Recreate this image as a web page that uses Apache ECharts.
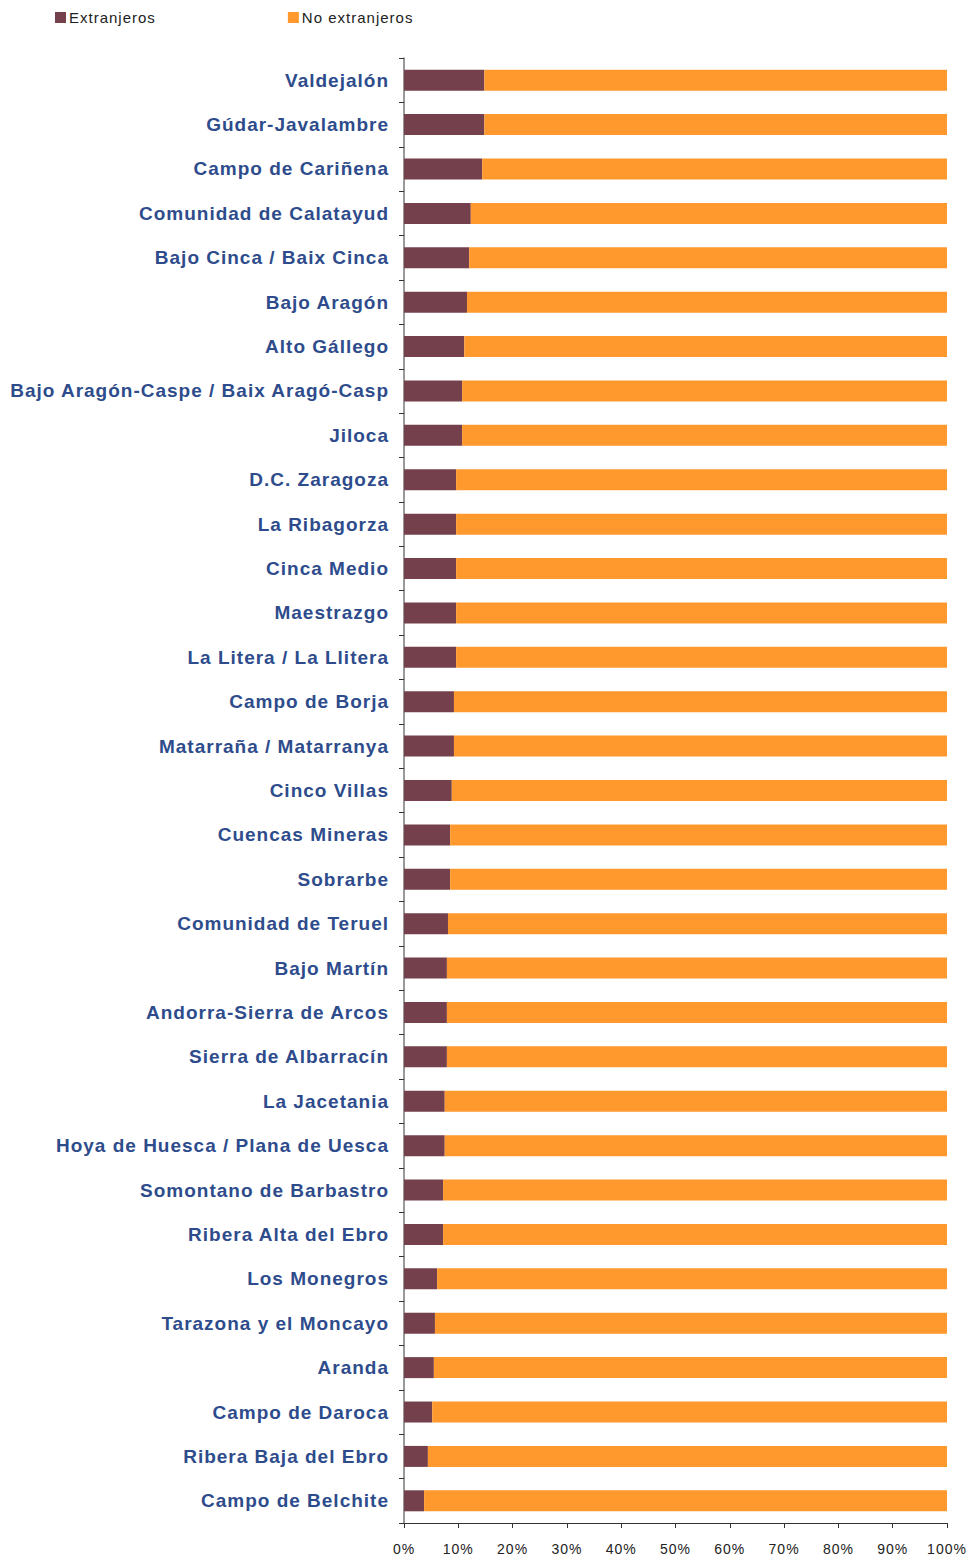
<!DOCTYPE html>
<html>
<head>
<meta charset="utf-8">
<script src="https://cdn.jsdelivr.net/npm/echarts@6/dist/echarts.min.js"></script>
<style>
  html, body { margin: 0; padding: 0; background: #fff; }
  #chart { width: 970px; height: 1559px; }
  /* el original tiene letras espaciadas */
  #chart text { letter-spacing: 1px; }
</style>
</head>
<body>
<div id="chart"></div>
<script>
// comarcas, de arriba a abajo
const comarcas = [
  'Valdejalón', 'Gúdar-Javalambre', 'Campo de Cariñena', 'Comunidad de Calatayud',
  'Bajo Cinca / Baix Cinca', 'Bajo Aragón', 'Alto Gállego', 'Bajo Aragón-Caspe / Baix Aragó-Casp',
  'Jiloca', 'D.C. Zaragoza', 'La Ribagorza', 'Cinca Medio', 'Maestrazgo',
  'La Litera / La Llitera', 'Campo de Borja', 'Matarraña / Matarranya', 'Cinco Villas',
  'Cuencas Mineras', 'Sobrarbe', 'Comunidad de Teruel', 'Bajo Martín',
  'Andorra-Sierra de Arcos', 'Sierra de Albarracín', 'La Jacetania',
  'Hoya de Huesca / Plana de Uesca', 'Somontano de Barbastro', 'Ribera Alta del Ebro',
  'Los Monegros', 'Tarazona y el Moncayo', 'Aranda', 'Campo de Daroca',
  'Ribera Baja del Ebro', 'Campo de Belchite'
]

// % extranjeros
const extranjeros = [
  14.8, 14.8, 14.4, 12.3, 12.0, 11.6, 11.1, 10.7, 10.7, 9.6, 9.6, 9.6, 9.6,
  9.6, 9.2, 9.2, 8.8, 8.5, 8.5, 8.1, 7.9, 7.9, 7.9, 7.5, 7.5, 7.2, 7.2,
  6.1, 5.7, 5.5, 5.2, 4.4, 3.7
]
const noExtranjeros = extranjeros.map(v => +(100 - v).toFixed(1))

const xTicks = [0, 10, 20, 30, 40, 50, 60, 70, 80, 90, 100]

const chart = echarts.init(document.getElementById('chart'), null, { renderer: 'svg' })

chart.setOption({
  animation: false,
  legend: {
    left: 50,
    top: 5,
    itemWidth: 11,
    itemHeight: 11,
    itemGap: 143,
    icon: 'rect',
    textStyle: { fontFamily: 'Liberation Sans', fontSize: 15, color: '#222', padding: [0, 0, 0, -2] },
    data: ['Extranjeros', 'No extranjeros']
  },
  grid: { left: 404, right: 23, top: 58, bottom: 36 },
  xAxis: {
    type: 'value',
    min: 0,
    max: 100,
    interval: 10,
    axisLine: { show: true, lineStyle: { color: '#333' } },
    axisTick: { show: true, length: 5, lineStyle: { color: '#333' } },
    splitLine: { show: false },
    axisLabel: {
      margin: 19,
      fontFamily: 'Liberation Sans',
      fontSize: 14,
      color: '#222',
      formatter: v => xTicks.includes(v) ? v + '%' : ''
    }
  },
  yAxis: {
    type: 'category',
    inverse: true,
    data: comarcas,
    axisLine: { show: true, lineStyle: { color: '#777', width: 1.5 } },
    axisTick: { show: true, length: 5, inside: false, lineStyle: { color: '#333' } },
    axisLabel: {
      margin: 15,
      fontFamily: 'Liberation Sans',
      fontWeight: 'bold',
      fontSize: 19,
      color: '#2E4C8C'
    }
  },
  series: [
    {
      name: 'Extranjeros',
      type: 'bar',
      stack: 'total',
      barWidth: 21,
      itemStyle: { color: '#74404C' },
      data: extranjeros
    },
    {
      name: 'No extranjeros',
      type: 'bar',
      stack: 'total',
      barWidth: 21,
      itemStyle: { color: '#FF992D' },
      data: noExtranjeros
    }
  ]
})
</script>
</body>
</html>
